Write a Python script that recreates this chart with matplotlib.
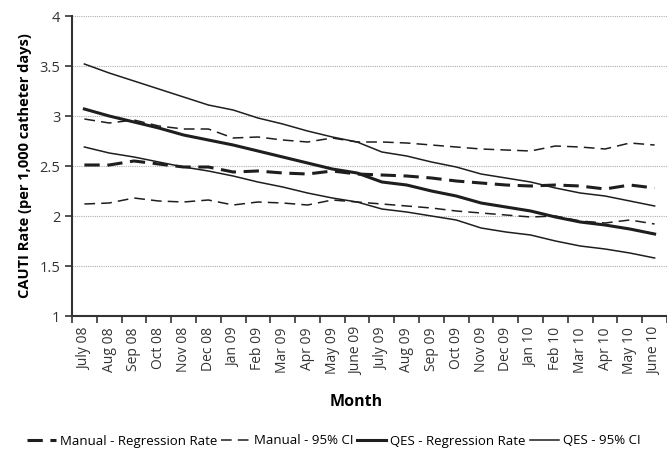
import matplotlib.pyplot as plt
import numpy as np

plt.rcParams['font.family'] = ['Open Sans', 'DejaVu Sans']

# Values
months = ['July 08', 'Aug 08', 'Sep 08', 'Oct 08', 'Nov 08', 'Dec 08',
          'Jan 09', 'Feb 09', 'Mar 09', 'Apr 09', 'May 09', 'June 09',
          'July 09', 'Aug 09', 'Sep 09', 'Oct 09', 'Nov 09', 'Dec 09',
          'Jan 10', 'Feb 10', 'Mar 10', 'Apr 10', 'May 10', 'June 10']

manual_rate = [2.51, 2.51, 2.55, 2.52, 2.49, 2.49, 2.44, 2.45, 2.43, 2.42, 2.45, 2.42,
               2.41, 2.40, 2.38, 2.35, 2.33, 2.31, 2.30, 2.31, 2.30, 2.27, 2.31, 2.28]
manual_upper = [2.97, 2.93, 2.96, 2.90, 2.87, 2.87, 2.78, 2.79, 2.76, 2.74, 2.78, 2.74,
                2.74, 2.73, 2.71, 2.69, 2.67, 2.66, 2.65, 2.70, 2.69, 2.67, 2.73, 2.71]
manual_lower = [2.12, 2.13, 2.18, 2.15, 2.14, 2.16, 2.11, 2.14, 2.13, 2.11, 2.16, 2.14,
                2.12, 2.10, 2.08, 2.05, 2.03, 2.01, 1.99, 2.00, 1.95, 1.93, 1.96, 1.92]
qes_rate = [3.07, 3.00, 2.94, 2.88, 2.81, 2.76, 2.71, 2.65, 2.59, 2.53, 2.47, 2.43,
            2.34, 2.31, 2.25, 2.20, 2.13, 2.09, 2.05, 1.99, 1.94, 1.91, 1.87, 1.82]
qes_upper = [3.52, 3.43, 3.35, 3.27, 3.19, 3.11, 3.06, 2.98, 2.92, 2.85, 2.79, 2.74,
             2.64, 2.60, 2.54, 2.49, 2.42, 2.38, 2.34, 2.28, 2.23, 2.20, 2.15, 2.10]
qes_lower = [2.69, 2.63, 2.59, 2.54, 2.49, 2.45, 2.40, 2.34, 2.29, 2.23, 2.18, 2.14,
             2.07, 2.04, 2.00, 1.96, 1.88, 1.84, 1.81, 1.75, 1.70, 1.67, 1.63, 1.58]

x = np.arange(len(months))
ink = '#1e1e1e'

fig = plt.figure(figsize=(6.67, 4.5), dpi=100)
ax = fig.add_axes([72 / 667, 1 - 316 / 450, 1 - 72 / 667, 300 / 450])

ax.plot(x, manual_rate, color=ink, lw=2.2, ls=(0, (5, 2.5)), label='Manual - Regression Rate')
ax.plot(x, manual_upper, color=ink, lw=1.1, ls=(0, (7, 4)), label='Manual - 95% CI')
ax.plot(x, manual_lower, color=ink, lw=1.1, ls=(0, (7, 4)))
ax.plot(x, qes_rate, color=ink, lw=2.2, label='QES - Regression Rate')
ax.plot(x, qes_upper, color=ink, lw=1.1, label='QES - 95% CI')
ax.plot(x, qes_lower, color=ink, lw=1.1)

ax.set_ylim(1, 4)
ax.set_xlim(-0.5, 23.3)
ax.set_yticks(np.arange(1, 4.01, 0.5))
ax.set_yticklabels(['1', '1.5', '2', '2.5', '3', '3.5', '4'], fontsize=10.5, color='#333')
ax.yaxis.grid(True, color='#b0b0b0', lw=0.8, ls=(0, (1, 1)))
ax.set_axisbelow(True)

ax.set_xticks(np.arange(-0.5, 24, 1))
ax.set_xticklabels([])
ax.set_xticks(x, minor=True)
ax.set_xticklabels(months, minor=True, rotation=90, fontsize=10, color='#333')
ax.tick_params(axis='x', which='minor', length=0, pad=8)
ax.tick_params(axis='x', which='major', length=5, width=1.2, color='#333')
ax.tick_params(axis='y', length=5, width=1.2, color='#333')

for s in ['top', 'right']:
    ax.spines[s].set_visible(False)
for s in ['left', 'bottom']:
    ax.spines[s].set_color('#333')
    ax.spines[s].set_linewidth(1.5)

ax.set_ylabel('CAUTI Rate (per 1,000 catheter days)', fontsize=10.5, fontweight='bold', labelpad=5)
fig.text(0.534, 1 - 402 / 450, 'Month', ha='center', va='center', fontsize=11.5, fontweight='bold')

fig.legend(loc='center', bbox_to_anchor=(0.5, 1 - 441 / 450), ncol=4, frameon=False,
           fontsize=9.5, handlelength=2.2, handletextpad=0.3, columnspacing=0.3,
           borderpad=0.1)

fig.savefig('out.png', dpi=100)
